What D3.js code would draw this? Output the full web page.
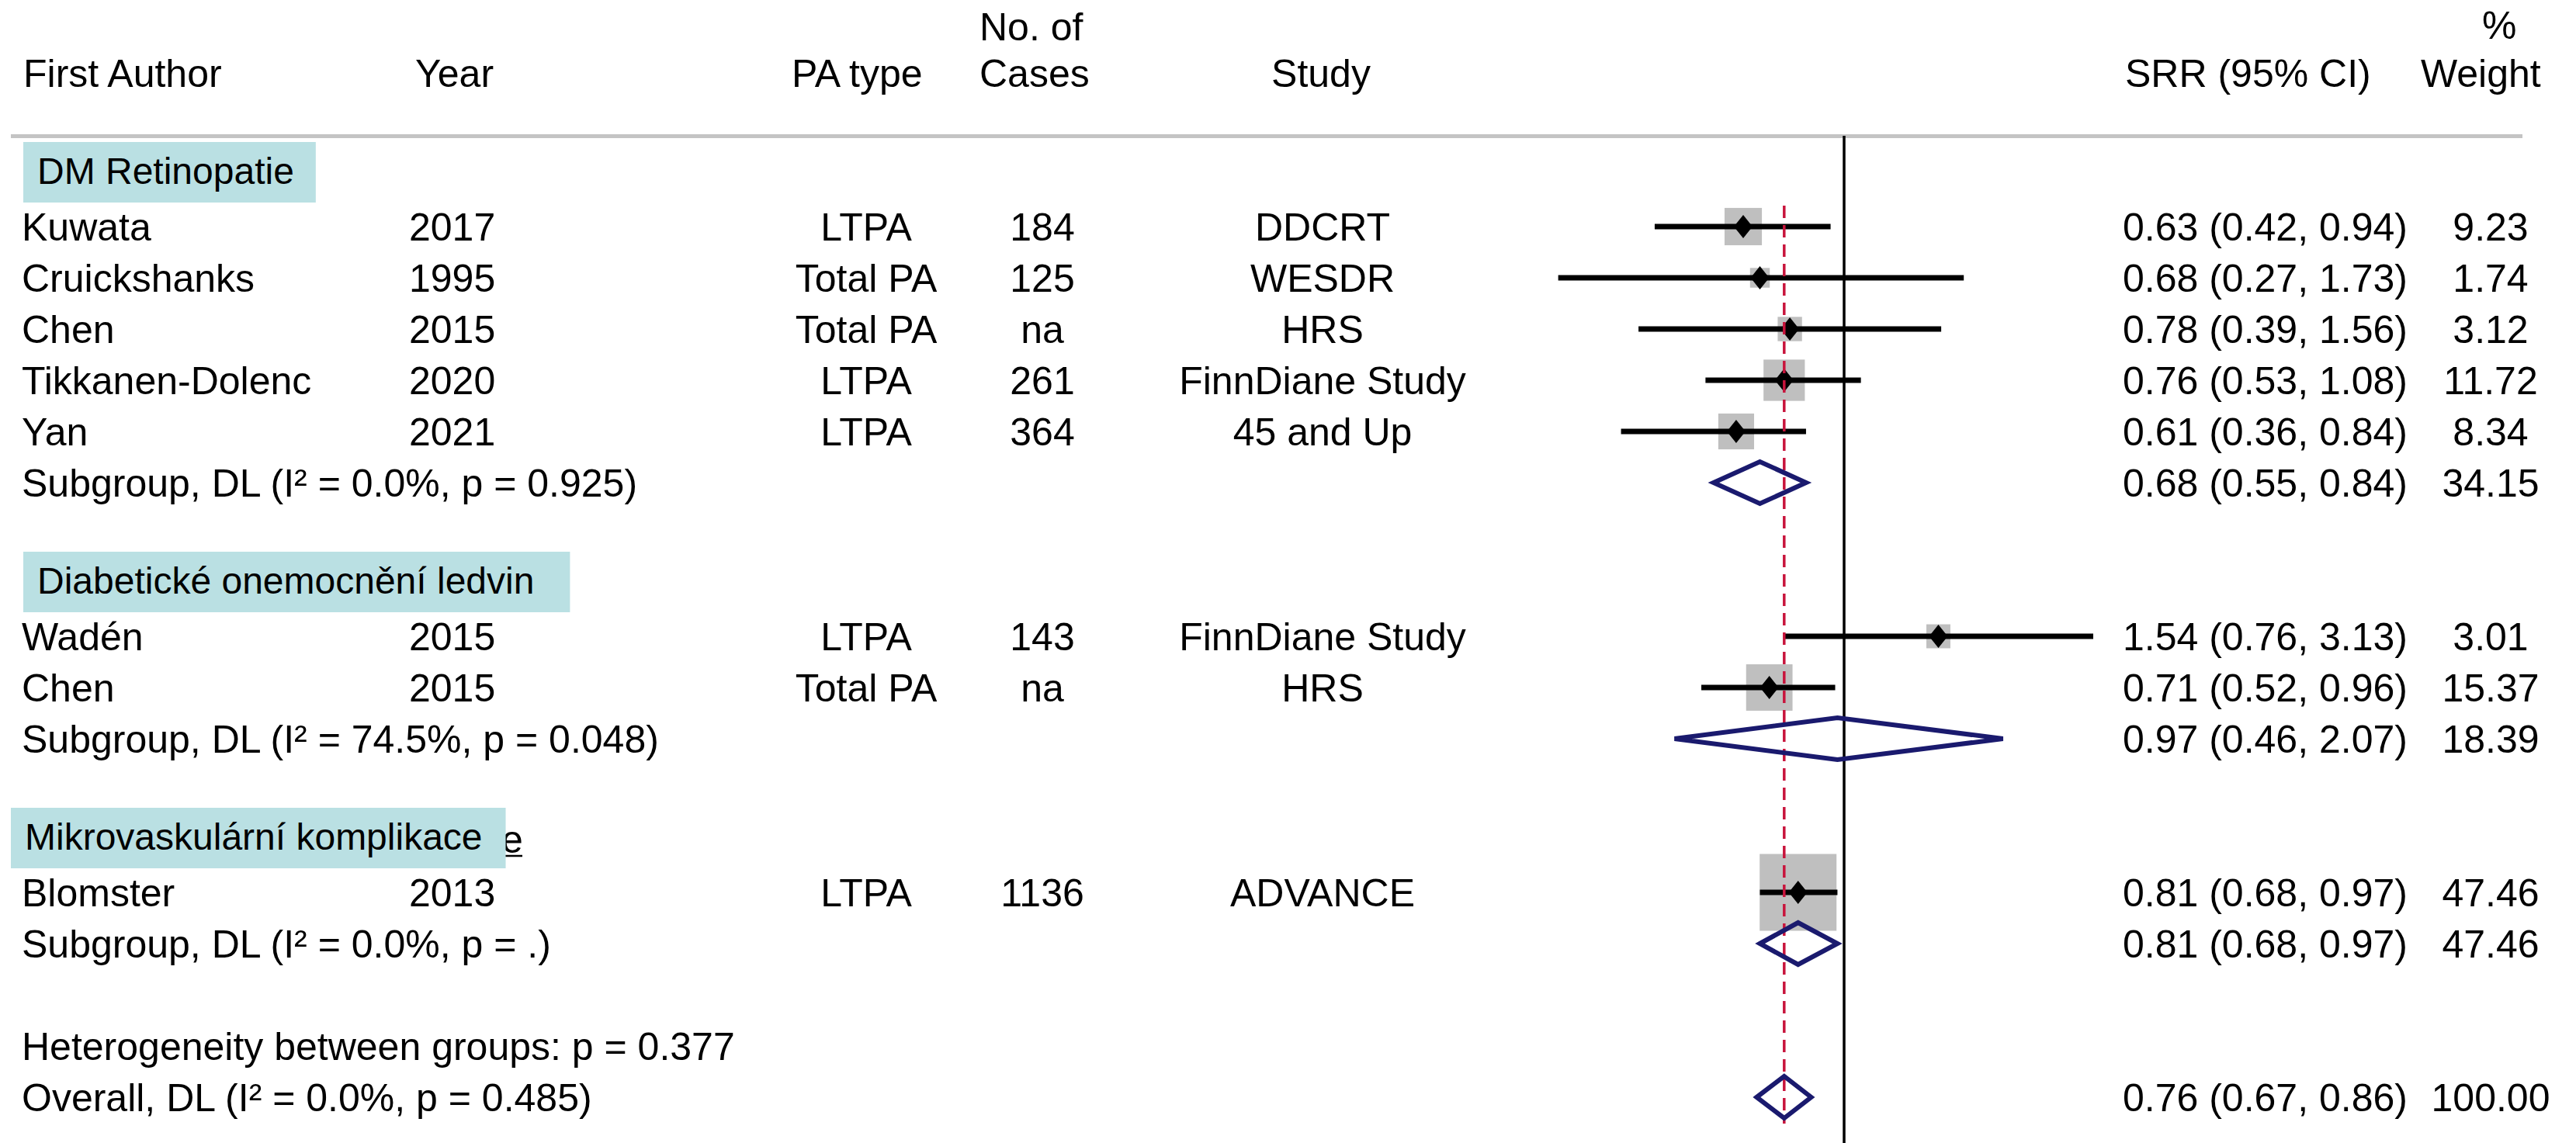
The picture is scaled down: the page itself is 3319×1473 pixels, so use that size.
<!DOCTYPE html>
<html>
<head>
<meta charset="utf-8">
<script src="https://cdn.jsdelivr.net/npm/d3@7"></script>
<style>
  body { margin: 0; background: #ffffff; }
  svg text { font-family: "Liberation Sans", Arial, Helvetica, sans-serif; font-size: 50px; fill: #000; }
  svg text.glabel { font-size: 48px; }
</style>
</head>
<body>
<div id="chart"></div>
<script>
// #####################################################
// Study data
//
var authors  = ["Kuwata", "Cruickshanks", "Chen", "Tikkanen-Dolenc", "Yan", "Wadén", "Chen", "Blomster"];
var years    = ["2017", "1995", "2015", "2020", "2021", "2015", "2015", "2013"];
var paTypes  = ["LTPA", "Total PA", "Total PA", "LTPA", "LTPA", "LTPA", "Total PA", "LTPA"];
var cases    = ["184", "125", "na", "261", "364", "143", "na", "1136"];
var studies  = ["DDCRT", "WESDR", "HRS", "FinnDiane Study", "45 and Up", "FinnDiane Study", "HRS", "ADVANCE"];
var srr      = [0.63, 0.68, 0.78, 0.76, 0.61, 1.54, 0.71, 0.81];
var lower    = [0.42, 0.27, 0.39, 0.53, 0.36, 0.76, 0.52, 0.68];
var upper    = [0.94, 1.73, 1.56, 1.08, 0.84, 3.13, 0.96, 0.97];
var weights  = [9.23, 1.74, 3.12, 11.72, 8.34, 3.01, 15.37, 47.46];
var groupOf  = [0, 0, 0, 0, 0, 1, 1, 2];

// subgroups
var groupLabels = ["DM Retinopatie", "Diabetické onemocnění ledvin", "Mikrovaskulární komplikace"];
var subText  = ["Subgroup, DL (I² = 0.0%, p = 0.925)",
                "Subgroup, DL (I² = 74.5%, p = 0.048)",
                "Subgroup, DL (I² = 0.0%, p = .)"];
var subSrr   = [0.68, 0.97, 0.81];
var subLower = [0.55, 0.46, 0.68];
var subUpper = [0.84, 2.07, 0.97];
var subWeight = [34.15, 18.39, 47.46];

// overall
var hetText = "Heterogeneity between groups: p = 0.377";
var overallText = "Overall, DL (I² = 0.0%, p = 0.485)";
var overall = {est: 0.76, lo: 0.67, hi: 0.86, w: 100.00};

// #####################################################
// Layout
//
var width = 3319, height = 1473;
var navy = "#1a1a6e", teal = "#bae0e3";
var boxLeft = [30, 30, 14];   // teal label boxes
var boxPad  = [28, 46, 30];

var svg = d3.select("#chart").append("svg")
    .attr("width", width)
    .attr("height", height);

// log x scale for ratios, one row = 66px
var x = d3.scaleLog().domain([0.25, 4]).range([1986, 2766]);
var y = d3.scaleLinear().domain([0, 18]).range([226, 1414]);
var side = d3.scaleSqrt().domain([0, 47.46]).range([8, 99]);

function fmt(v) { return d3.format(".2f")(v); }
function ciText(e, l, h) { return fmt(e) + " (" + fmt(l) + ", " + fmt(h) + ")"; }

// build row list
var rows = [];
var r = 0;
groupLabels.forEach(function(lab, g) {
  rows.push({type: "label", row: r++, g: g, text: lab});
  for (var i = 0; i < authors.length; i++) {
    if (groupOf[i] == g) rows.push({type: "study", row: r++, i: i});
  };
  rows.push({type: "sub", row: r++, g: g});
  r++;
});
rows.push({type: "het", row: r++});
rows.push({type: "overall", row: r++});

var studyRows = rows.filter(function(d) { return d.type == "study"; });
var sumRows = rows.filter(function(d) { return d.type == "sub" || d.type == "overall"; })
  .map(function(d) {
    if (d.type == "sub") return {row: d.row, est: subSrr[d.g], lo: subLower[d.g], hi: subUpper[d.g], w: subWeight[d.g], text: subText[d.g]};
    return {row: d.row, est: overall.est, lo: overall.lo, hi: overall.hi, w: overall.w, text: overallText};
  });

// #####################################################
// Header
//
var baseDy = 18;
svg.append("line")
  .attr("x1", 14).attr("x2", 3250)
  .attr("y1", 175.5).attr("y2", 175.5)
  .attr("stroke", "#c4c4c4").attr("stroke-width", 5);

var headers = [
  {t: "First Author", x: 30, y: 112, a: "start"},
  {t: "Year", x: 535, y: 112, a: "start"},
  {t: "PA type", x: 1020, y: 112, a: "start"},
  {t: "No. of", x: 1262, y: 52, a: "start"},
  {t: "Cases", x: 1262, y: 112, a: "start"},
  {t: "Study", x: 1702, y: 112, a: "middle"},
  {t: "SRR (95% CI)", x: 2738, y: 112, a: "start"},
  {t: "%", x: 3198, y: 50, a: "start"},
  {t: "Weight", x: 3119, y: 112, a: "start"}
];
svg.selectAll(".hdr").data(headers).enter().append("text")
  .attr("class", "hdr")
  .attr("x", function(d) { return d.x; })
  .attr("y", function(d) { return d.y; })
  .attr("text-anchor", function(d) { return d.a; })
  .text(function(d) { return d.t; });

// #####################################################
// Plot marks
//
// weight squares
svg.selectAll(".wbox").data(studyRows).enter().append("rect")
  .attr("class", "wbox")
  .attr("x", function(d) { return x(srr[d.i]) - side(weights[d.i]) / 2; })
  .attr("y", function(d) { return y(d.row) - side(weights[d.i]) / 2; })
  .attr("width", function(d) { return side(weights[d.i]); })
  .attr("height", function(d) { return side(weights[d.i]); })
  .attr("fill", "#bfbfbf");

// confidence intervals
svg.selectAll(".ci").data(studyRows).enter().append("line")
  .attr("class", "ci")
  .attr("x1", function(d) { return x(lower[d.i]); })
  .attr("x2", function(d) { return x(upper[d.i]); })
  .attr("y1", function(d) { return y(d.row); })
  .attr("y2", function(d) { return y(d.row); })
  .attr("stroke", "#000").attr("stroke-width", 7);

// point estimates
svg.selectAll(".pt").data(studyRows).enter().append("path")
  .attr("class", "pt")
  .attr("d", function(d) {
    var cx = x(srr[d.i]), cy = y(d.row);
    return "M" + (cx - 12) + "," + cy + "L" + cx + "," + (cy - 15) +
           "L" + (cx + 12) + "," + cy + "L" + cx + "," + (cy + 15) + "Z";
  })
  .attr("fill", "#000");

// null line
svg.append("line")
  .attr("x1", x(1)).attr("x2", x(1))
  .attr("y1", 175).attr("y2", height)
  .attr("stroke", "#000").attr("stroke-width", 3.5);

// overall effect line
svg.append("line")
  .attr("x1", x(overall.est)).attr("x2", x(overall.est))
  .attr("y1", y(1) - 27).attr("y2", y(18) + 34)
  .attr("stroke", "#c8143c").attr("stroke-width", 3.5)
  .attr("stroke-dasharray", "16,9");

// pooled diamonds
svg.selectAll(".dia").data(sumRows).enter().append("path")
  .attr("class", "dia")
  .attr("d", function(d) {
    var cy = y(d.row);
    return "M" + x(d.lo) + "," + cy + "L" + x(d.est) + "," + (cy - 27) +
           "L" + x(d.hi) + "," + cy + "L" + x(d.est) + "," + (cy + 27) + "Z";
  })
  .attr("fill", "none")
  .attr("stroke", navy).attr("stroke-width", 6)
  .attr("stroke-linejoin", "miter");

// #####################################################
// Text columns
//
var cols = [
  {key: function(i) { return authors[i]; }, x: 28, a: "start"},
  {key: function(i) { return years[i]; }, x: 527, a: "start"},
  {key: function(i) { return paTypes[i]; }, x: 1116, a: "middle"},
  {key: function(i) { return cases[i]; }, x: 1343, a: "middle"},
  {key: function(i) { return studies[i]; }, x: 1704, a: "middle"},
  {key: function(i) { return ciText(srr[i], lower[i], upper[i]); }, x: 2735, a: "start"},
  {key: function(i) { return fmt(weights[i]); }, x: 3209, a: "middle"}
];
cols.forEach(function(c) {
  svg.selectAll(null).data(studyRows).enter().append("text")
    .attr("x", c.x)
    .attr("y", function(d) { return y(d.row) + baseDy; })
    .attr("text-anchor", c.a)
    .text(function(d) { return c.key(d.i); });
});

// subgroup + overall text
svg.selectAll(null).data(sumRows).enter().append("text")
  .attr("x", 28).attr("y", function(d) { return y(d.row) + baseDy; })
  .text(function(d) { return d.text; });
svg.selectAll(null).data(sumRows).enter().append("text")
  .attr("x", 2735).attr("y", function(d) { return y(d.row) + baseDy; })
  .text(function(d) { return ciText(d.est, d.lo, d.hi); });
svg.selectAll(null).data(sumRows).enter().append("text")
  .attr("x", 3209).attr("y", function(d) { return y(d.row) + baseDy; })
  .attr("text-anchor", "middle")
  .text(function(d) { return fmt(d.w); });

svg.append("text").attr("x", 28).attr("y", y(17) + baseDy).text(hetText);

// #####################################################
// Group labels (teal boxes over the original underlined labels)
//
var labRows = rows.filter(function(d) { return d.type == "label"; });

// left-over bit of the original label peeking out of the last box
var g3 = labRows[2];
svg.append("text").attr("x", 646).attr("y", y(g3.row) + 15).text("e");
svg.append("line")
  .attr("x1", 646).attr("x2", 673)
  .attr("y1", y(g3.row) + 19).attr("y2", y(g3.row) + 19)
  .attr("stroke", "#000").attr("stroke-width", 2.5);

labRows.forEach(function(d) {
  var top = y(d.row) - 43;
  var gBox = svg.append("g");
  var rect = gBox.append("rect")
    .attr("x", boxLeft[d.g]).attr("y", top)
    .attr("height", 78)
    .attr("fill", teal);
  var t = gBox.append("text")
    .attr("class", "glabel")
    .attr("x", boxLeft[d.g] + 18).attr("y", top + 54)
    .text(d.text);
  rect.attr("width", t.node().getComputedTextLength() + 18 + boxPad[d.g]);
});
</script>
</body>
</html>
